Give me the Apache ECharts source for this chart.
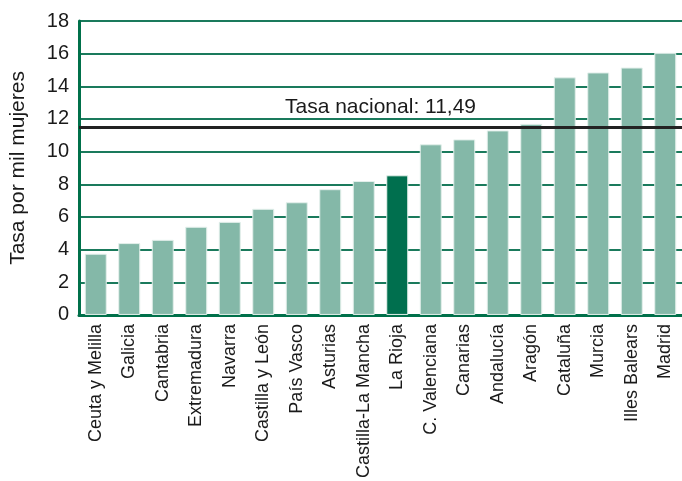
<!DOCTYPE html>
<html>
<head>
<meta charset="utf-8">
<title>Tasa por mil mujeres</title>
<script src="https://cdn.jsdelivr.net/npm/echarts@6/dist/echarts.min.js"></script>
<style>
  body { margin: 0; background: #fff; }
  #main { width: 682px; height: 481px; }
</style>
</head>
<body>
<div id="main"></div>
<script>
var regiones = ['Ceuta y Melilla', 'Galicia', 'Cantabria', 'Extremadura', 'Navarra',
  'Castilla y León', 'País Vasco', 'Asturias', 'Castilla-La Mancha', 'La Rioja',
  'C. Valenciana', 'Canarias', 'Andalucía', 'Aragón', 'Cataluña', 'Murcia',
  'Illes Balears', 'Madrid'];
var tasas = [3.75, 4.4, 4.6, 5.4, 5.7, 6.5, 6.9, 7.7, 8.2, 8.55,
  10.45, 10.75, 11.3, 11.7, 14.55, 14.85, 15.15, 16.05];
var destacada = 'La Rioja';
var tasaNacional = 11.49;

var chart = echarts.init(document.getElementById('main'));
var font = 'Liberation Sans, Arial, sans-serif';

var datos = [];
for (var i = 0; i < regiones.length; i++) {
  datos.push({
    value: tasas[i],
    itemStyle: { color: regiones[i] == destacada ? '#006f4e' : '#84b8a8' }
  });
}

chart.setOption({
  animation: false,
  grid: { left: 79, top: 21, width: 610, height: 297 },
  xAxis: {
    type: 'category',
    data: regiones,
    axisLine: { lineStyle: { color: '#00704a', width: 3 } },
    axisTick: { show: false },
    axisLabel: {
      rotate: 90, interval: 0, margin: 9,
      color: '#1a1a1a', fontSize: 18, fontFamily: font
    }
  },
  yAxis: {
    type: 'value',
    min: 0, max: 18, interval: 2,
    name: 'Tasa por mil mujeres',
    nameLocation: 'middle',
    nameGap: 50,
    nameTextStyle: { color: '#1a1a1a', fontSize: 21, fontFamily: font },
    axisLine: { show: true, lineStyle: { color: '#00704a', width: 3 } },
    axisTick: { show: false },
    axisLabel: { color: '#1a1a1a', fontSize: 20, fontFamily: font, margin: 10 },
    splitLine: { lineStyle: { color: '#1a7a5c', width: 2 } }
  },
  series: [{
    type: 'bar',
    data: datos,
    barWidth: 22,
    itemStyle: { borderColor: '#e4f0ec', borderWidth: 1 },
    markLine: {
      silent: true,
      symbol: 'none',
      data: [{ yAxis: tasaNacional }],
      lineStyle: { color: '#222', width: 3, type: 'solid' },
      label: {
        position: 'middle',
        formatter: 'Tasa nacional: 11,49',
        color: '#1a1a1a', fontSize: 21, fontFamily: font,
        distance: 10
      }
    }
  }]
});
</script>
</body>
</html>
